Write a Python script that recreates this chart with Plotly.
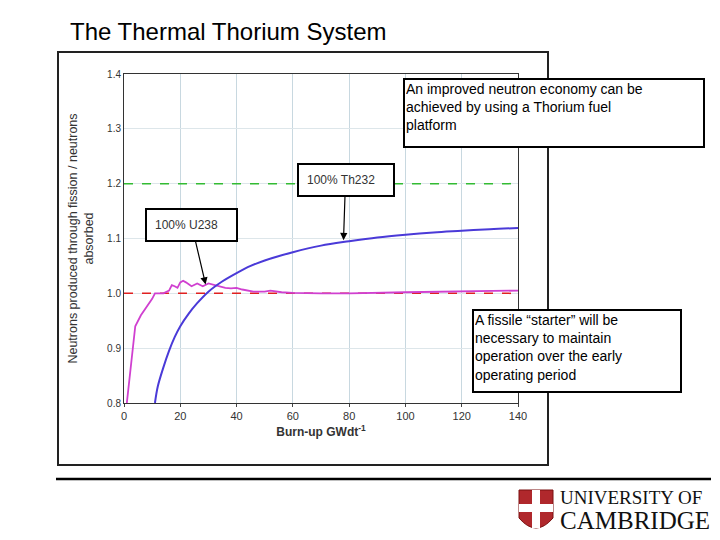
import plotly.graph_objects as go

u238_x = [1, 2, 3, 4, 6, 8, 10, 11, 14, 16, 17, 18, 19, 20, 21, 22, 24, 26, 28, 30, 32, 34, 36, 38,
          40, 42, 46, 50, 52, 56, 60, 70, 80, 100, 120, 140]
u238_y = [0.8, 0.85, 0.9, 0.94, 0.96, 0.975, 0.99, 1.0, 1.0, 1.005, 1.015, 1.013, 1.01, 1.02, 1.023,
          1.02, 1.013, 1.018, 1.013, 1.018, 1.015, 1.012, 1.01, 1.009, 1.01, 1.007, 1.003, 1.003,
          1.005, 1.002, 1.001, 1.0, 1.0, 1.002, 1.003, 1.005]
th232_x = [11, 12, 14, 16, 18, 20, 23, 26, 30, 35, 40, 45, 50, 60, 70, 80, 90, 100, 110, 120, 130, 140]
th232_y = [0.8, 0.83, 0.865, 0.895, 0.92, 0.94, 0.963, 0.982, 1.003, 1.022, 1.037, 1.05, 1.06,
           1.075, 1.087, 1.095, 1.102, 1.107, 1.111, 1.114, 1.117, 1.119]
ref_x = [0, 140]
green_ref = 1.2
red_ref = 1.0
x_ticks = [0, 20, 40, 60, 80, 100, 120, 140]
y_ticks = [0.8, 0.9, 1.0, 1.1, 1.2, 1.3, 1.4]


def px(v):
    return v / 720


def py(v):
    return 1 - v / 540


fig = go.Figure()
fig.add_trace(go.Scatter(x=ref_x, y=[green_ref] * 2, mode="lines",
                         line=dict(color="#33bb33", width=1.5, dash="dash")))
fig.add_trace(go.Scatter(x=ref_x, y=[red_ref] * 2, mode="lines",
                         line=dict(color="#e02020", width=1.5, dash="dash")))
fig.add_trace(go.Scatter(x=u238_x, y=u238_y, mode="lines",
                         line=dict(color="#d040d0", width=1.8)))
fig.add_trace(go.Scatter(x=th232_x, y=th232_y, mode="lines", line_shape="spline",
                         line=dict(color="#4a3ad8", width=2)))

fig.update_layout(
    width=720, height=540, showlegend=False, paper_bgcolor="white", plot_bgcolor="white",
    margin=dict(l=0, r=0, t=0, b=0, autoexpand=False),
    font=dict(family="Liberation Sans", color="#333"),
    xaxis=dict(domain=[px(116), px(510)], range=[0, 140], tickvals=x_ticks, showgrid=True,
               gridcolor="#c8d8e0", zeroline=False, showline=True, linecolor="#333", mirror=True,
               tickfont=dict(size=11), ticks="outside", ticklen=3,
               title=dict(text="<b>Burn-up GWdt<sup>-1</sup></b>", font=dict(size=12), standoff=6)),
    yaxis=dict(domain=[py(395), py(66)], range=[0.8, 1.4], tickvals=y_ticks, tickformat=".1f",
               showgrid=True, gridcolor="#dde6ea", zeroline=False, showline=True, linecolor="#333",
               mirror=True, tickfont=dict(size=10), ticks="",
               title=dict(text="Neutrons produced through fission / neutrons<br>absorbed",
                          font=dict(size=12.5), standoff=10)),
)

fig.add_shape(type="rect", xref="paper", yref="paper", x0=px(50), x1=px(540), y0=py(457),
              y1=py(44), line=dict(color="#222", width=2), layer="below")
fig.add_shape(type="line", xref="paper", yref="paper", x0=px(48), x1=px(703), y0=py(471),
              y1=py(471), line=dict(color="black", width=2.5))

fig.add_annotation(xref="paper", yref="paper", x=px(60), y=py(24), xanchor="left", yanchor="middle",
                   text="The Thermal Thorium System", showarrow=False,
                   font=dict(size=24, color="black", family="Liberation Sans"))

box = dict(showarrow=False, bgcolor="white", bordercolor="black", borderwidth=2,
           align="left", font=dict(size=14, color="black", family="Liberation Sans"))
fig.add_annotation(xref="paper", yref="paper", x=px(395), y=py(70), xanchor="left", yanchor="top",
                   text="An improved neutron economy can be<br>achieved by using a Thorium fuel<br>platform ",
                   width=296, height=64, valign="top", **box)
fig.add_annotation(xref="paper", yref="paper", x=px(464), y=py(301), xanchor="left", yanchor="top",
                   text="A fissile “starter” will be<br>necessary to maintain<br>operation over the early<br>operating period",
                   width=204, height=78, valign="top", **box)

lab = dict(bgcolor="white", bordercolor="black", borderwidth=2, borderpad=8,
           font=dict(size=12, color="#333", family="Liberation Sans"),
           arrowhead=2, arrowsize=1.2, arrowwidth=1.2, arrowcolor="black")
fig.add_annotation(x=78, y=1.097, ax=2, ay=-60, text="100% Th232&nbsp;&nbsp;&nbsp;", **lab)
fig.add_annotation(x=29, y=1.016, ax=-14, ay=-60, text="100% U238&nbsp;&nbsp;&nbsp;", **lab)

# logo
fig.add_shape(type="path", xref="paper", yref="paper",
              path=f"M {px(511)},{py(482)} L {px(545)},{py(482)} L {px(545)},{py(510)} "
                   f"Q {px(528)},{py(530)} {px(511)},{py(510)} Z",
              fillcolor="#b0282c", line=dict(color="#7a1010", width=1))
fig.add_shape(type="rect", xref="paper", yref="paper", x0=px(524), x1=px(532), y0=py(520),
              y1=py(482), fillcolor="white", line=dict(width=0))
fig.add_shape(type="rect", xref="paper", yref="paper", x0=px(511), x1=px(545), y0=py(504),
              y1=py(496), fillcolor="white", line=dict(width=0))
fig.add_annotation(xref="paper", yref="paper", x=px(550), y=py(489), xanchor="left", yanchor="middle",
                   showarrow=False, text="UNIVERSITY OF",
                   font=dict(size=19, color="#111", family="Liberation Serif"))
fig.add_annotation(xref="paper", yref="paper", x=px(550), y=py(512), xanchor="left", yanchor="middle",
                   showarrow=False, text="CAMBRIDGE",
                   font=dict(size=25, color="#111", family="Liberation Serif"))

fig.write_html("out.html")
